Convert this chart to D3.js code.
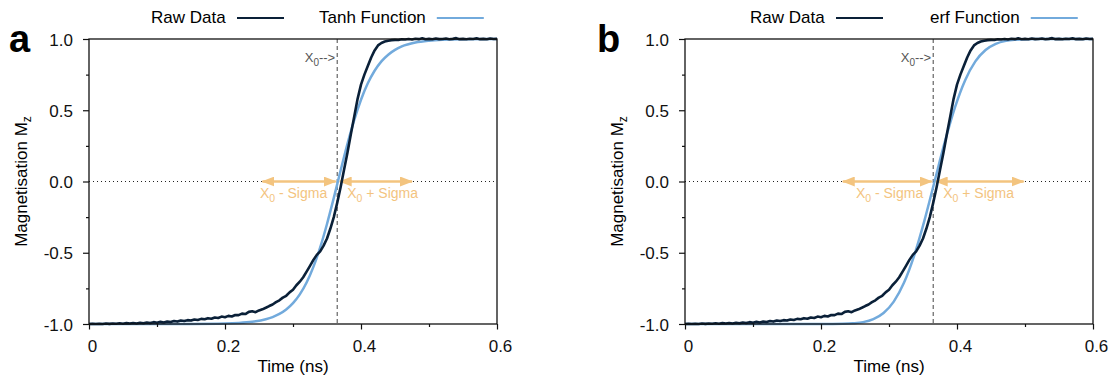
<!DOCTYPE html>
<html><head><meta charset="utf-8">
<script src="https://cdn.jsdelivr.net/npm/d3@7"></script>
<style>
body{margin:0;background:#fff;}
text{font-family:"Liberation Sans",Arial,Helvetica,sans-serif;}
</style></head><body>
<svg id="chart" width="1111" height="385"></svg>
<script>
// ---------- data ----------
const rawTime = [0.000,0.005,0.010,0.015,0.020,0.025,0.030,0.035,0.040,0.045,0.050,0.055,0.060,0.065,0.070,0.075,0.080,0.085,0.090,0.095,
  0.100,0.105,0.110,0.115,0.120,0.125,0.130,0.135,0.140,0.145,0.150,0.155,0.160,0.165,0.170,0.175,0.180,0.185,0.190,0.195,
  0.200,0.205,0.210,0.215,0.220,0.225,0.230,0.235,0.240,0.245,0.250,0.255,0.260,0.265,0.270,0.275,0.280,0.285,0.290,0.295,
  0.300,0.305,0.310,0.315,0.320,0.325,0.330,0.335,0.340,0.345,0.350,0.355,0.360,0.365,0.370,0.375,0.380,0.385,0.390,0.395,
  0.400,0.405,0.410,0.415,0.420,0.425,0.430,0.435,0.440,0.445,0.450,0.455,0.460,0.465,0.470,0.475,0.480,0.485,0.490,0.495,
  0.500,0.505,0.510,0.515,0.520,0.525,0.530,0.535,0.540,0.545,0.550,0.555,0.560,0.565,0.570,0.575,0.580,0.585,0.590,0.595,0.600];
const rawMag  = [-1.000,-0.999,-1.000,-0.998,-1.000,-0.997,-0.999,-0.996,-0.998,-0.995,-0.998,-0.994,-0.997,-0.993,-0.996,-0.991,-0.995,-0.990,-0.993,-0.987,
  -0.991,-0.985,-0.989,-0.983,-0.986,-0.979,-0.983,-0.976,-0.979,-0.973,-0.976,-0.968,-0.972,-0.964,-0.967,-0.959,-0.963,-0.954,-0.958,-0.948,
  -0.952,-0.943,-0.947,-0.937,-0.938,-0.927,-0.930,-0.915,-0.911,-0.917,-0.905,-0.897,-0.886,-0.874,-0.863,-0.847,-0.834,-0.815,-0.802,-0.778,
  -0.760,-0.728,-0.703,-0.672,-0.632,-0.592,-0.550,-0.515,-0.490,-0.450,-0.400,-0.330,-0.250,-0.150,-0.040,0.080,0.200,0.330,0.455,0.580,
  0.680,0.750,0.810,0.870,0.920,0.955,0.972,0.982,0.988,0.992,0.994,0.993,0.998,0.996,1.000,0.997,1.002,0.999,1.005,0.998,
  1.001,0.998,1.004,0.999,1.000,1.003,0.998,1.001,1.006,0.999,1.001,0.998,1.002,1.000,1.005,0.999,1.001,0.998,1.004,1.000,1.001];

const tanhTime = [0.00,0.10,0.15,0.20,0.22,0.24,0.26,0.27,0.28,0.29,0.30,0.31,0.32,0.33,0.34,0.35,0.36,0.37,0.38,0.39,0.40,0.41,0.42,0.43,0.44,0.45,0.46,0.48,0.50,0.52,0.55,0.60];
const tanhMag  = [-1.000,-1.000,-0.9995,-0.9966,-0.9928,-0.9845,-0.9668,-0.9514,-0.9294,-0.898,-0.8535,-0.792,-0.709,-0.599,-0.462,-0.298,-0.115,0.077,0.263,0.431,0.574,0.689,0.777,0.843,0.890,0.924,0.948,0.975,0.988,0.9946,0.9983,0.9998];

const erfTime = [0.00,0.15,0.20,0.217,0.232,0.247,0.262,0.277,0.292,0.307,0.322,0.337,0.352,0.367,0.382,0.397,0.412,0.427,0.442,0.457,0.472,0.487,0.502,0.517,0.55,0.60];
const erfMag  = [-1.000,-1.000,-0.9999,-0.9996,-0.9985,-0.995,-0.987,-0.966,-0.923,-0.843,-0.711,-0.520,-0.276,0.000,0.276,0.520,0.711,0.843,0.923,0.966,0.987,0.995,0.9985,0.9996,1.000,1.000];

const xTicks = [0,0.1,0.2,0.3,0.4,0.5,0.6];
const xTickLabels = ["0","","0.2","","0.4","","0.6"];
const yTicks = [-1,-0.75,-0.5,-0.25,0,0.25,0.5,0.75,1];
const yTickLabels = ["-1.0","","-0.5","","0.0","","0.5","","1.0"];

const panelLetters = ["a","b"];
const fitNames = ["Tanh Function","erf Function"];
const x0Values = [0.365,0.365];
const sigmaValues = [0.11,0.133];
const rawName = "Raw Data";
const xTitle = "Time (ns)";

// ---------- drawing ----------
const svg = d3.select("#chart");
const C_RAW = "#0a2038", C_FIT = "#72aadc", C_ORANGE = "#f3c47f";
const FONT = 17;
const panels = [
  {left:89, right:497, letterX:9, legendX:151, fitGap:168, fit:{t:tanhTime,m:tanhMag}},
  {left:685, right:1093, letterX:597, legendX:750, fitGap:180, fit:{t:erfTime,m:erfMag}}
];
const plotTop = 39, plotBottom = 324;

const defs = svg.append("defs");
defs.append("marker").attr("id","ah")
  .attr("viewBox","0 0 13 10").attr("refX",12).attr("refY",5)
  .attr("markerWidth",13).attr("markerHeight",10)
  .attr("markerUnits","userSpaceOnUse")
  .attr("orient","auto-start-reverse")
  .append("path").attr("d","M0,0 L13,5 L0,10 Z").attr("fill",C_ORANGE);

panels.forEach((p,i)=>{
  const x = d3.scaleLinear().domain([0,0.6]).range([p.left,p.right]);
  const y = d3.scaleLinear().domain([-1,1]).range([plotBottom,plotTop]);
  const g = svg.append("g");

  // panel letter
  g.append("text").attr("x",p.letterX).attr("y",52)
    .attr("font-size",38).attr("font-weight","bold").text(panelLetters[i]);

  // legend
  const lg = g.append("g");
  const lx = p.legendX;
  lg.append("text").attr("x",lx).attr("y",23).attr("font-size",FONT).text(rawName);
  lg.append("line").attr("x1",lx+86).attr("x2",lx+133).attr("y1",18).attr("y2",18)
    .attr("stroke",C_RAW).attr("stroke-width",2);
  const fx = lx + p.fitGap;
  const ft = lg.append("text").attr("x",fx).attr("y",23).attr("font-size",FONT).text(fitNames[i]);
  const fw = ft.node().getComputedTextLength();
  lg.append("line").attr("x1",fx+fw+11).attr("x2",fx+fw+58).attr("y1",18).attr("y2",18)
    .attr("stroke",C_FIT).attr("stroke-width",2);

  // dotted zero line
  g.append("line").attr("x1",x(0)).attr("x2",x(0.6)).attr("y1",y(0)).attr("y2",y(0))
    .attr("stroke","#222").attr("stroke-width",1).attr("stroke-dasharray","1,3");

  // x0 dashed line
  const x0 = x0Values[i], sg = sigmaValues[i];
  g.append("line").attr("x1",x(x0)).attr("x2",x(x0)).attr("y1",y(1)).attr("y2",y(-1))
    .attr("stroke","#444").attr("stroke-width",1).attr("stroke-dasharray","4,3");

  // X0 label
  const xl = g.append("text").attr("x",x(x0)-2).attr("y",62).attr("text-anchor","end")
    .attr("font-size",13).attr("fill","#555");
  xl.append("tspan").text("X");
  xl.append("tspan").attr("font-size",10).attr("dy",4).text("0");
  xl.append("tspan").attr("dy",-4).text("-->");

  // arrows
  g.append("line").attr("x1",x(x0)-1.5).attr("x2",x(x0-sg)).attr("y1",y(0)).attr("y2",y(0))
    .attr("stroke",C_ORANGE).attr("stroke-width",2.5)
    .attr("marker-start","url(#ah)").attr("marker-end","url(#ah)");
  g.append("line").attr("x1",x(x0)+2.5).attr("x2",x(x0+sg)).attr("y1",y(0)).attr("y2",y(0))
    .attr("stroke",C_ORANGE).attr("stroke-width",2.5)
    .attr("marker-start","url(#ah)").attr("marker-end","url(#ah)");

  const ol = g.append("text").attr("x",x(x0)-10).attr("y",198).attr("text-anchor","end")
    .attr("font-size",14).attr("fill",C_ORANGE);
  ol.append("tspan").text("X");
  ol.append("tspan").attr("font-size",10.5).attr("dy",4).text("0");
  ol.append("tspan").attr("dy",-4).text(" - Sigma");
  const or = g.append("text").attr("x",x(x0)+10).attr("y",198).attr("text-anchor","start")
    .attr("font-size",14).attr("fill",C_ORANGE);
  or.append("tspan").text("X");
  or.append("tspan").attr("font-size",10.5).attr("dy",4).text("0");
  or.append("tspan").attr("dy",-4).text(" + Sigma");

  // curves
  const line = d3.line().x(d=>x(d[0])).y(d=>y(d[1])).curve(d3.curveMonotoneX);
  g.append("path").datum(p.fit.t.map((t,k)=>[t,p.fit.m[k]]))
    .attr("d",line).attr("fill","none").attr("stroke",C_FIT).attr("stroke-width",2.5);
  g.append("path").datum(rawTime.map((t,k)=>[t,rawMag[k]]))
    .attr("d",d3.line().x(d=>x(d[0])).y(d=>y(d[1])))
    .attr("fill","none").attr("stroke",C_RAW).attr("stroke-width",2.6).attr("stroke-linejoin","round");

  // frame
  g.append("rect").attr("x",x(0)).attr("y",y(1)).attr("width",x(0.6)-x(0)).attr("height",y(-1)-y(1))
    .attr("fill","none").attr("stroke","#111").attr("stroke-width",1.3);

  // axes
  const xa = g.append("g").attr("transform",`translate(0,${plotBottom})`)
    .call(d3.axisBottom(x).tickValues(xTicks).tickSize(5).tickPadding(8)
      .tickFormat((d,k)=>xTickLabels[k]));
  xa.select(".domain").remove();
  xa.selectAll(".tick line").attr("y2",(d,k)=>xTickLabels[k]?5.5:3).attr("stroke","#111").attr("stroke-width",1.2);
  xa.selectAll(".tick text").attr("font-size",FONT).attr("font-family",null).attr("fill","#111").attr("dx",3).attr("dy","0.9em");

  const ya = g.append("g").attr("transform",`translate(${p.left},0)`)
    .call(d3.axisLeft(y).tickValues(yTicks).tickSize(6).tickPadding(10)
      .tickFormat((d,k)=>yTickLabels[k]));
  ya.select(".domain").remove();
  ya.selectAll(".tick line").attr("x2",(d,k)=>yTickLabels[k]?-6:-3).attr("stroke","#111").attr("stroke-width",1.2);
  ya.selectAll(".tick text").attr("font-size",FONT).attr("font-family",null).attr("fill","#111").attr("dy","0.36em");

  // titles
  g.append("text").attr("x",(x(0)+x(0.6))/2).attr("y",372).attr("text-anchor","middle")
    .attr("font-size",FONT).text(xTitle);
  const yt = g.append("text").attr("transform",`translate(${p.left-62},${(plotTop+plotBottom)/2}) rotate(-90)`)
    .attr("text-anchor","middle").attr("font-size",FONT);
  yt.append("tspan").text("Magnetisation M");
  yt.append("tspan").attr("font-size",12).attr("dy",4).text("z");
});
</script>
</body></html>
